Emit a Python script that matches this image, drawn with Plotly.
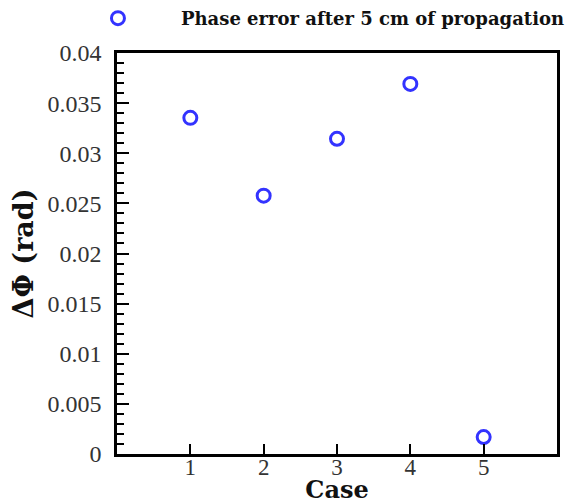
import plotly.graph_objects as go

cases = [1, 2, 3, 4, 5]
phase_error = [0.03353, 0.02577, 0.03144, 0.03692, 0.00169]
series_name = "Phase error after 5 cm of propagation"
y_tick_vals = [0, 0.005, 0.01, 0.015, 0.02, 0.025, 0.03, 0.035, 0.04]
y_tick_text = ["0", "0.005", "0.01", "0.015", "0.02", "0.025", "0.03", "0.035", "0.04"]
x_tick_vals = [1, 2, 3, 4, 5]
x_tick_text = ["1", "2", "3", "4", "5"]

serif = "Liberation Serif, DejaVu Serif, serif"
bold_serif = "DejaVu Serif, serif"

fig = go.Figure()
fig.add_trace(go.Scatter(
    x=cases, y=phase_error, mode="markers", name=series_name,
    marker=dict(symbol="circle-open", size=13, color="#3333ff",
                line=dict(width=3, color="#3333ff")),
))

fig.update_layout(
    width=570, height=496,
    margin=dict(l=109, r=21, t=45, b=50, autoexpand=False),
    plot_bgcolor="white", paper_bgcolor="white",
    font=dict(family=serif, color="#222222", size=22),
    showlegend=True,
    legend=dict(
        x=-0.141, xanchor="left", y=1.04, yanchor="bottom",
        orientation="h",
        font=dict(family=bold_serif, size=18, color="#111111", weight="bold"),
        bgcolor="rgba(0,0,0,0)", itemwidth=116,
    ),
    xaxis=dict(
        range=[0, 6], tickvals=x_tick_vals, ticktext=x_tick_text,
        ticks="inside", ticklen=10, tickwidth=2, tickcolor="black",
        ticklabelstandoff=-9,
        showline=True, linewidth=2.5, linecolor="black", mirror=True,
        showgrid=False, zeroline=False,
        tickfont=dict(family=serif, size=23, color="#333333"),
        title=dict(text="<b>Case</b>", standoff=10,
                   font=dict(family=bold_serif, size=24, color="#111111")),
    ),
    yaxis=dict(
        range=[0, 0.04], tickvals=y_tick_vals, ticktext=y_tick_text,
        ticks="inside", ticklen=12, tickwidth=2, tickcolor="black",
        ticklabelstandoff=8,
        minor=dict(dtick=0.001, ticks="inside", ticklen=7, tickwidth=1.5, tickcolor="black"),
        showline=True, linewidth=2.5, linecolor="black", mirror=True,
        showgrid=False, zeroline=False,
        tickfont=dict(family=serif, size=24, color="#333333"),
        title=dict(text="<b>ΔΦ (rad)</b>", standoff=9,
                   font=dict(family=bold_serif, size=27, color="#111111")),
    ),
)

fig.write_html("out.html")
